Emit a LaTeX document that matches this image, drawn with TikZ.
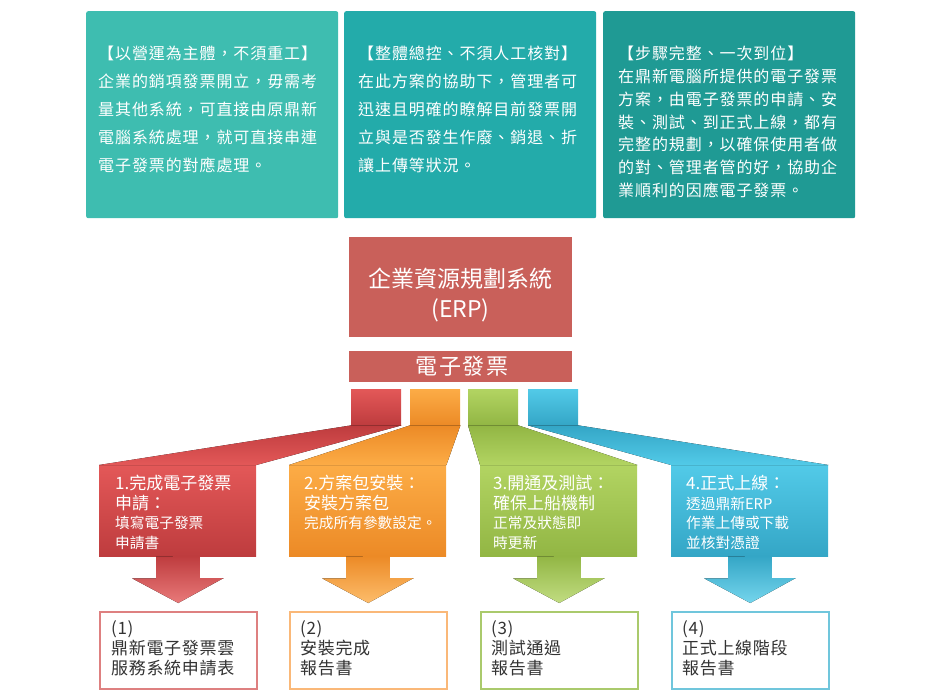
\documentclass[tikz,border=0pt]{standalone}
\usepackage{fontspec}
\setmainfont{Noto Sans CJK TC}
\usetikzlibrary{calc}

\definecolor{tealA}{RGB}{62,189,176}
\definecolor{tealB}{RGB}{35,171,170}
\definecolor{tealC}{RGB}{31,154,148}
\definecolor{erpRed}{RGB}{201,96,90}
\definecolor{redT}{RGB}{227,88,88}
\definecolor{redB}{RGB}{190,60,62}
\definecolor{redL}{RGB}{222,128,128}
\definecolor{oraT}{RGB}{252,172,70}
\definecolor{oraB}{RGB}{236,138,38}
\definecolor{oraL}{RGB}{250,184,120}
\definecolor{greT}{RGB}{178,212,98}
\definecolor{greB}{RGB}{146,182,68}
\definecolor{greL}{RGB}{170,202,108}
\definecolor{bluT}{RGB}{82,202,232}
\definecolor{bluB}{RGB}{52,166,198}
\definecolor{bluL}{RGB}{112,198,220}
\definecolor{ink}{RGB}{51,51,51}

\begin{document}
\begin{tikzpicture}[x=1pt, y=-1pt,
  tile/.style={rounded corners=2pt, anchor=north west, inner sep=0pt, minimum width=252, minimum height=207},
  note/.style={anchor=north west, inner sep=0pt, align=left, text=white},
  cube/.style={anchor=north west, inner sep=0pt, minimum width=50, minimum height=36},
  stepbox/.style={anchor=north west, inner sep=0pt, minimum width=157, minimum height=91},
  steptext/.style={anchor=north west, inner sep=0pt, align=left, text=white, font=\fontsize{17}{19.5}\selectfont},
  outbox/.style={anchor=north west, inner sep=0pt, minimum width=157, minimum height=77, fill=white, line width=1.5pt},
  outtext/.style={anchor=north west, inner sep=0pt, align=left, text=ink, font=\fontsize{17}{20}\selectfont\addfontfeature{LetterSpace=4}}]
\useasboundingbox (0,0) rectangle (950,700);

\node[tile, fill=tealA] (boxA) at (86,11) {};
\node[tile, fill=tealB] (boxB) at (344,11) {};
\node[tile, fill=tealC] (boxC) at (603,11) {};

\node[note, font=\fontsize{16}{28}\selectfont\addfontfeature{LetterSpace=5.7}] (noteA) at (98,46) {【以營運為主體，不須重工】\\企業的銷項發票開立，毋需考\\量其他系統，可直接由原鼎新\\電腦系統處理，就可直接串連\\電子發票的對應處理。};
\node[note, font=\fontsize{16}{28}\selectfont\addfontfeature{LetterSpace=5.7}] (noteB) at (358,46) {【整體總控、不須人工核對】\\在此方案的協助下，管理者可\\迅速且明確的瞭解目前發票開\\立與是否發生作廢、銷退、折\\讓上傳等狀況。};
\node[note, font=\fontsize{16}{22.8}\selectfont\addfontfeature{LetterSpace=5.7}] (noteC) at (618,46) {【步驟完整、一次到位】\\在鼎新電腦所提供的電子發票\\方案，由電子發票的申請、安\\裝、測試、到正式上線，都有\\完整的規劃，以確保使用者做\\的對、管理者管的好，協助企\\業順利的因應電子發票。};

\node[fill=erpRed, inner sep=0pt, minimum width=223, minimum height=100] (erp) at (460.5,287) {};
\node[text=white, align=center, inner sep=0pt, font=\fontsize{23}{30}\selectfont] (erpText) at (460.5,295) {企業資源規劃系統\\(ERP)};
\node[fill=erpRed, inner sep=0pt, minimum width=223, minimum height=31] (einv) at (460.5,366.5) {};
\node[text=white, inner sep=0pt, font=\fontsize{22}{26}\selectfont\addfontfeature{LetterSpace=8}] (einvText) at (462,366.5) {電子發票};

\node[cube, top color=redT, bottom color=redB] (sqRed) at (351,389) {};
\node[cube, top color=oraT, bottom color=oraB] (sqOra) at (410,389) {};
\node[cube, top color=greT, bottom color=greB] (sqGre) at (468,389) {};
\node[cube, top color=bluT, bottom color=bluB] (sqBlu) at (528,389) {};

\node[stepbox, top color=redT, bottom color=redB] (stepRed) at (99,465) {};
\node[stepbox, top color=oraT, bottom color=oraB] (stepOra) at (289,465) {};
\node[stepbox, top color=greT, bottom color=greB] (stepGre) at (480,465) {};
\node[stepbox, top color=bluT, bottom color=bluB] (stepBlu) at (671,465) {};

\fill[top color=redB, bottom color=redT] (sqRed.south west) -- (sqRed.south east) -- (stepRed.north east) -- (stepRed.north west) -- cycle;
\fill[top color=oraB, bottom color=oraT] (sqOra.south west) -- (sqOra.south east) -- (stepOra.north east) -- (stepOra.north west) -- cycle;
\fill[top color=greB, bottom color=greT] (sqGre.south west) -- (sqGre.south east) -- (stepGre.north east) -- (stepGre.north west) -- cycle;
\fill[top color=bluB, bottom color=bluT] (sqBlu.south west) -- (sqBlu.south east) -- (stepBlu.north east) -- (stepBlu.north west) -- cycle;

\node[steptext] (textRed) at (115,475) {1.完成電子發票\\申請：\\{\fontsize{14.7}{19.5}\selectfont 填寫電子發票}\\{\fontsize{14.7}{19.5}\selectfont 申請書}};
\node[steptext] (textOra) at (304,475) {2.方案包安裝：\\安裝方案包\\{\fontsize{14.7}{19.5}\selectfont 完成所有參數設定。}};
\node[steptext] (textGre) at (493,475) {3.開通及測試：\\確保上船機制\\{\fontsize{14.7}{19.5}\selectfont 正常及狀態即}\\{\fontsize{14.7}{19.5}\selectfont 時更新}};
\node[steptext] (textBlu) at (686,475) {4.正式上線：\\{\fontsize{14.7}{19.5}\selectfont 透過鼎新ERP}\\{\fontsize{14.7}{19.5}\selectfont 作業上傳或下載}\\{\fontsize{14.7}{19.5}\selectfont 並核對憑證}};

\node[outbox, draw=redL] (outRed) at (99,611) {};
\node[outbox, draw=oraL] (outOra) at (289,611) {};
\node[outbox, draw=greL] (outGre) at (480,611) {};
\node[outbox, draw=bluL] (outBlu) at (671,611) {};

\fill[top color=redB, bottom color=redT!80!white] ($(stepRed.south)+(-21.5,0)$) -- ++(0,22) -- ++(-24,0) -- ($(outRed.north)+(0,-8)$) -- ++(45.5,-25) -- ++(-24,0) -- ++(0,-22) -- cycle;
\fill[top color=oraB, bottom color=oraT!80!white] ($(stepOra.south)+(-21.5,0)$) -- ++(0,22) -- ++(-24,0) -- ($(outOra.north)+(0,-8)$) -- ++(45.5,-25) -- ++(-24,0) -- ++(0,-22) -- cycle;
\fill[top color=greB, bottom color=greT!80!white] ($(stepGre.south)+(-21.5,0)$) -- ++(0,22) -- ++(-24,0) -- ($(outGre.north)+(0,-8)$) -- ++(45.5,-25) -- ++(-24,0) -- ++(0,-22) -- cycle;
\fill[top color=bluB, bottom color=bluT!80!white] ($(stepBlu.south)+(-21.5,0)$) -- ++(0,22) -- ++(-24,0) -- ($(outBlu.north)+(0,-8)$) -- ++(45.5,-25) -- ++(-24,0) -- ++(0,-22) -- cycle;

\node[outtext] (labelRed) at (111,620) {(1)\\鼎新電子發票雲\\服務系統申請表};
\node[outtext] (labelOra) at (300,620) {(2)\\安裝完成\\報告書};
\node[outtext] (labelGre) at (491,620) {(3)\\測試通過\\報告書};
\node[outtext] (labelBlu) at (682,620) {(4)\\正式上線階段\\報告書};
\end{tikzpicture}
\end{document}
